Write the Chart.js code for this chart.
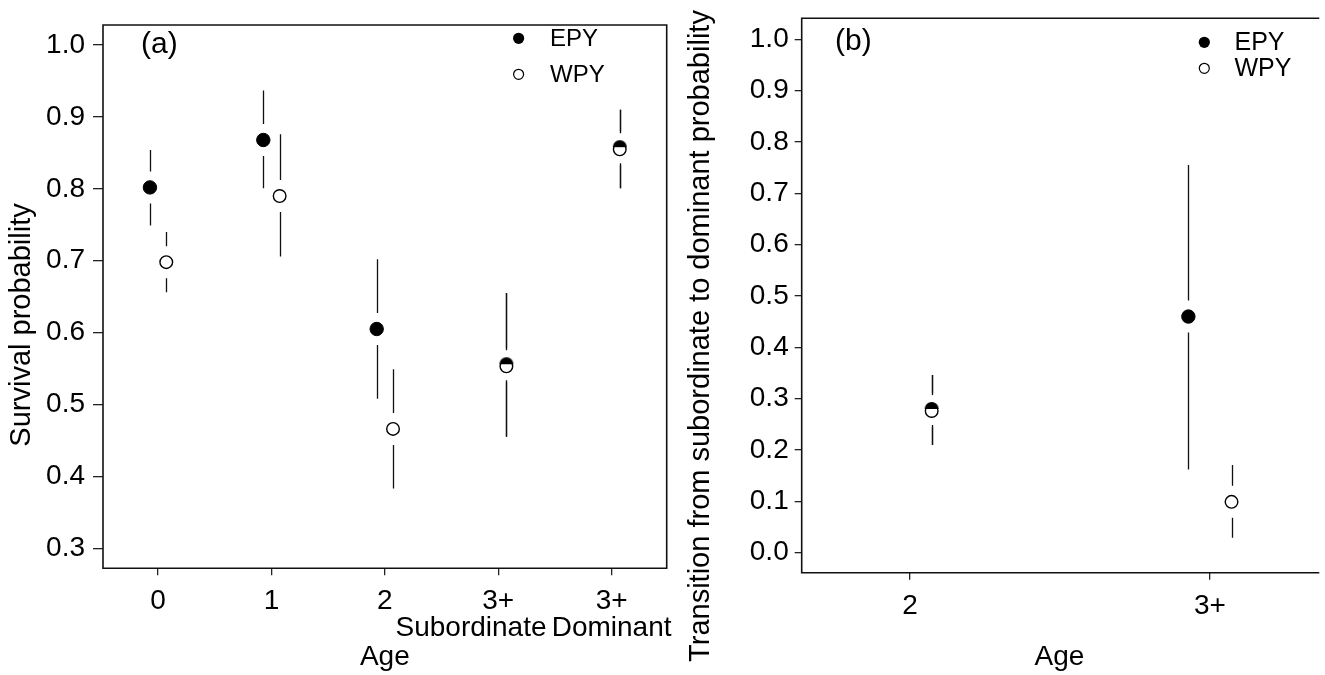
<!DOCTYPE html>
<html>
<head>
<meta charset="utf-8">
<script src="https://cdn.jsdelivr.net/npm/chart.js@4/dist/chart.umd.min.js"></script>
<style>
  body { margin: 0; background: #fff; width: 1325px; height: 675px; overflow: hidden; position: relative; }
  canvas { position: absolute; top: 0; }
  #chartA { left: 0; }
  #chartB { left: 680px; }
</style>
</head>
<body>
<canvas id="chartA" width="680" height="675"></canvas>
<canvas id="chartB" width="645" height="675"></canvas>
<script>
// panel (a) - survival by age
const ageLabelsA = ['0', '1', '2', ['3+', 'Subordinate'], ['3+', 'Dominant']];
const epyA     = [0.802, 0.868, 0.605, 0.556, 0.858];
const epyLowA  = [0.749, 0.801, 0.508, 0.455, 0.801];
const epyHighA = [0.854, 0.937, 0.702, 0.655, 0.910];
const wpyA     = [0.698, 0.790, 0.466, 0.553, 0.855];
const wpyLowA  = [0.656, 0.706, 0.383, 0.455, 0.801];
const wpyHighA = [0.740, 0.876, 0.549, 0.655, 0.910];
const epySideA = [-1, -1, -1, 1, 1]; // which side of the tick the point sits
const wpySideA = [1, 1, 1, 1, 1];
const yTicksA  = [0.3, 0.4, 0.5, 0.6, 0.7, 0.8, 0.9, 1.0];

// panel (b) - transition subordinate -> dominant
const ageLabelsB = ['2', '3+'];
const epyB     = [0.280, 0.460];
const epyLowB  = [0.210, 0.162];
const epyHighB = [0.346, 0.755];
const wpyB     = [0.276, 0.099];
const wpyLowB  = [0.210, 0.029];
const wpyHighB = [0.346, 0.171];
const epySideB = [1, -1];
const wpySideB = [1, 1];
const yTicksB  = [0.0, 0.1, 0.2, 0.3, 0.4, 0.5, 0.6, 0.7, 0.8, 0.9, 1.0];

const DODGE = 0.072;
const GAP = 16; // px between marker centre and error bar
const FONT = 'Liberation Sans, Arial, sans-serif';

function points(vals, lows, highs, sides) {
  return vals.map((v, i) => ({ x: i + sides[i] * DODGE, y: v, lo: lows[i], hi: highs[i] }));
}

// top half filled dot, used where EPY sits on top of WPY
function halfDot(r) {
  const c = document.createElement('canvas');
  const s = Math.ceil(r * 2 + 2);
  c.width = s; c.height = s;
  const g = c.getContext('2d');
  g.fillStyle = '#000';
  g.beginPath();
  g.arc(s / 2, s / 2, r, Math.PI, 2 * Math.PI);
  g.closePath();
  g.fill();
  return c;
}
const HALF = halfDot(7);

const errorBars = {
  id: 'errorBars',
  beforeDatasetsDraw(chart) {
    const { ctx } = chart;
    const xs = chart.scales.x, ys = chart.scales.y;
    ctx.save();
    ctx.strokeStyle = '#111';
    ctx.lineWidth = 1.3;
    chart.data.datasets.forEach(ds => {
      ds.data.forEach(p => {
        const px = Math.round(xs.getPixelForValue(p.x)) + 0.5;
        const pc = ys.getPixelForValue(p.y);
        const pt = ys.getPixelForValue(p.hi);
        const pb = ys.getPixelForValue(p.lo);
        ctx.beginPath();
        if (pc - GAP > pt) { ctx.moveTo(px, pt); ctx.lineTo(px, pc - GAP); }
        if (pc + GAP < pb) { ctx.moveTo(px, pc + GAP); ctx.lineTo(px, pb); }
        ctx.stroke();
      });
    });
    ctx.restore();
  }
};

const decorations = {
  id: 'decorations',
  afterDraw(chart, args, o) {
    const { ctx, chartArea: a } = chart;
    ctx.save();
    // frame
    ctx.strokeStyle = '#111';
    ctx.lineWidth = 1.6;
    ctx.beginPath();
    if (o.closed) {
      ctx.rect(a.left, a.top, a.right - a.left, a.bottom - a.top);
    } else {
      ctx.moveTo(a.right + 2, a.top);
      ctx.lineTo(a.left, a.top);
      ctx.lineTo(a.left, a.bottom);
      ctx.lineTo(a.right + 2, a.bottom);
    }
    ctx.stroke();

    // panel letter
    ctx.fillStyle = '#000';
    ctx.font = '30px ' + FONT;
    ctx.textAlign = 'left';
    ctx.textBaseline = 'middle';
    ctx.fillText(o.letter, o.letterX, o.letterY);

    // y axis title
    ctx.save();
    ctx.font = '29px ' + FONT;
    ctx.textAlign = 'center';
    ctx.translate(o.titleX, o.titleY);
    ctx.rotate(-Math.PI / 2);
    ctx.fillText(o.yTitle, 0, 0);
    ctx.restore();

    // legend
    ctx.font = o.legendFont + 'px ' + FONT;
    ctx.textAlign = 'left';
    chart.data.datasets.forEach((ds, i) => {
      const y = o.legendY[i];
      ctx.beginPath();
      ctx.arc(o.legendX, y, ds.filled ? 5.6 : 5, 0, 2 * Math.PI);
      if (ds.filled) { ctx.fillStyle = '#000'; ctx.fill(); }
      else { ctx.fillStyle = '#fff'; ctx.fill(); ctx.lineWidth = 1.2; ctx.strokeStyle = '#000'; ctx.stroke(); }
      ctx.fillStyle = '#000';
      ctx.fillText(ds.label, o.legendTextX, y + 1);
    });
    ctx.restore();
  }
};

function makeChart(id, p) {
  const epy = points(p.epy, p.epyLow, p.epyHigh, p.epySide);
  const wpy = points(p.wpy, p.wpyLow, p.wpyHigh, p.wpySide);
  const overlap = i => p.epySide[i] === p.wpySide[i];
  return new Chart(document.getElementById(id), {
    type: 'scatter',
    data: {
      datasets: [
        {
          label: 'EPY', filled: true, data: epy,
          pointStyle: ctx => overlap(ctx.dataIndex) ? HALF : 'circle',
          pointRadius: 6.7, backgroundColor: '#000', borderColor: '#000', borderWidth: 1
        },
        {
          label: 'WPY', filled: false, data: wpy,
          pointStyle: 'circle',
          pointRadius: 6.3, backgroundColor: '#fff', borderColor: '#000', borderWidth: 1.4
        }
      ]
    },
    options: {
      responsive: false,
      animation: false,
      devicePixelRatio: 1,
      layout: { padding: { top: p.padTop, right: p.padRight, left: 0, bottom: 0 } },
      plugins: {
        legend: { display: false },
        tooltip: { enabled: false },
        decorations: p.deco
      },
      scales: {
        x: {
          type: 'linear',
          min: p.xMin, max: p.xMax,
          afterBuildTicks: s => { s.ticks = p.labels.map((_, i) => ({ value: i })); },
          afterFit: s => { s.height = p.xHeight; s.paddingLeft = 0; s.paddingRight = 0; },
          ticks: {
            autoSkip: false, maxRotation: 0,
            padding: 13,
            color: '#000',
            font: { family: FONT, size: 28, lineHeight: 0.95 },
            callback: v => {
              const l = p.labels[v];
              if (Array.isArray(l) && p.trail[v]) return [l[0], l[1] + ' '.repeat(p.trail[v])];
              return l;
            }
          },
          grid: { drawOnChartArea: false, drawTicks: true, tickLength: 7, color: '#222', lineWidth: 1.3 },
          border: { display: false },
          title: { display: true, text: 'Age', color: '#000', font: { family: FONT, size: 28 }, padding: { top: 0, bottom: 1 } }
        },
        y: {
          min: p.yMin, max: p.yMax,
          afterBuildTicks: s => { s.ticks = p.yTicks.map(v => ({ value: v })); },
          afterFit: s => { s.width = p.yWidth; s.paddingTop = 0; s.paddingBottom = 0; },
          ticks: {
            padding: p.yPad,
            color: '#000',
            font: { family: FONT, size: 28 },
            callback: v => v.toFixed(1)
          },
          grid: { drawOnChartArea: false, drawTicks: true, tickLength: p.yTick, color: '#222', lineWidth: 1.3 },
          border: { display: false }
        }
      }
    },
    plugins: [errorBars, decorations]
  });
}

makeChart('chartA', {
  epy: epyA, epyLow: epyLowA, epyHigh: epyHighA, epySide: epySideA,
  wpy: wpyA, wpyLow: wpyLowA, wpyHigh: wpyHighA, wpySide: wpySideA,
  labels: ageLabelsA, trail: { 3: 7 }, yTicks: yTicksA,
  xMin: -0.486, xMax: 4.486, yMin: 0.272, yMax: 1.028,
  padTop: 25, padRight: 13.3, xHeight: 106.7, yWidth: 103, yPad: 8, yTick: 10,
  deco: {
    closed: true, letter: '(a)', letterX: 141, letterY: 45,
    yTitle: 'Survival probability', titleX: 22, titleY: 325,
    legendX: 518.6, legendTextX: 550, legendY: [38.3, 74.3], legendFont: 24
  }
});

makeChart('chartB', {
  epy: epyB, epyLow: epyLowB, epyHigh: epyHighB, epySide: epySideB,
  wpy: wpyB, wpyLow: wpyLowB, wpyHigh: wpyHighB, wpySide: wpySideB,
  labels: ageLabelsB, trail: {}, yTicks: yTicksB,
  xMin: -0.3615, xMax: 1.358, yMin: -0.039, yMax: 1.041,
  padTop: 18.3, padRight: 0, xHeight: 102.3, yWidth: 121.7, yPad: 6, yTick: 7,
  deco: {
    closed: false, letter: '(b)', letterX: 155, letterY: 42,
    yTitle: 'Transition from subordinate to dominant probability', titleX: 21, titleY: 336,
    legendX: 524.3, legendTextX: 554.5, legendY: [42.3, 68.3], legendFont: 25
  }
});
</script>
</body>
</html>
